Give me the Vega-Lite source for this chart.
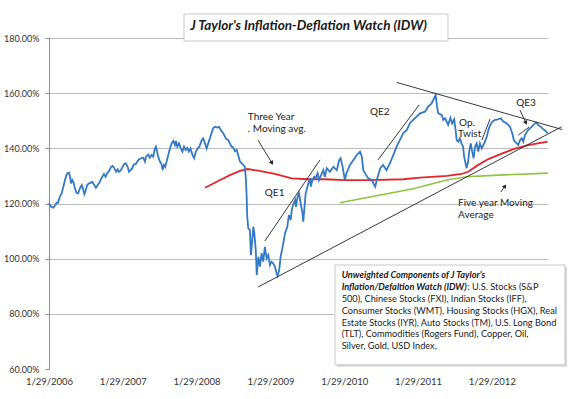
{
  "$schema": "https://vega.github.io/schema/vega-lite/v6.json",
  "width": 499,
  "height": 331,
  "autosize": {"type": "none"},
  "padding": {"left": 49, "top": 38, "right": 22, "bottom": 30},
  "background": "white",
  "config": {"view": {"stroke": null}, "font": "Lato"},
  "datasets": {
    "idw": [
      {"date": "2006-01-29", "v": 1.201}, {"date": "2006-02-08", "v": 1.188}, {"date": "2006-02-19", "v": 1.185}, {"date": "2006-02-27", "v": 1.192},
      {"date": "2006-03-08", "v": 1.203}, {"date": "2006-03-14", "v": 1.202}, {"date": "2006-03-24", "v": 1.225}, {"date": "2006-04-02", "v": 1.237},
      {"date": "2006-04-10", "v": 1.261}, {"date": "2006-04-18", "v": 1.285}, {"date": "2006-04-23", "v": 1.297}, {"date": "2006-04-30", "v": 1.31},
      {"date": "2006-05-08", "v": 1.312}, {"date": "2006-05-13", "v": 1.297}, {"date": "2006-05-18", "v": 1.273}, {"date": "2006-05-24", "v": 1.285},
      {"date": "2006-05-31", "v": 1.275}, {"date": "2006-06-06", "v": 1.255}, {"date": "2006-06-14", "v": 1.239}, {"date": "2006-06-22", "v": 1.237},
      {"date": "2006-07-01", "v": 1.255}, {"date": "2006-07-10", "v": 1.267}, {"date": "2006-07-18", "v": 1.249}, {"date": "2006-07-23", "v": 1.234},
      {"date": "2006-07-30", "v": 1.249}, {"date": "2006-08-06", "v": 1.267}, {"date": "2006-08-15", "v": 1.273}, {"date": "2006-08-23", "v": 1.275},
      {"date": "2006-08-31", "v": 1.279}, {"date": "2006-09-10", "v": 1.267}, {"date": "2006-09-18", "v": 1.257}, {"date": "2006-09-27", "v": 1.267},
      {"date": "2006-10-05", "v": 1.275}, {"date": "2006-10-13", "v": 1.288}, {"date": "2006-10-20", "v": 1.297}, {"date": "2006-10-28", "v": 1.307},
      {"date": "2006-11-05", "v": 1.297}, {"date": "2006-11-15", "v": 1.312}, {"date": "2006-11-23", "v": 1.319}, {"date": "2006-12-02", "v": 1.333},
      {"date": "2006-12-10", "v": 1.336}, {"date": "2006-12-18", "v": 1.328}, {"date": "2006-12-27", "v": 1.315}, {"date": "2007-01-04", "v": 1.324},
      {"date": "2007-01-10", "v": 1.315}, {"date": "2007-01-20", "v": 1.321}, {"date": "2007-01-28", "v": 1.333}, {"date": "2007-02-05", "v": 1.343},
      {"date": "2007-02-13", "v": 1.346}, {"date": "2007-02-22", "v": 1.333}, {"date": "2007-03-01", "v": 1.315}, {"date": "2007-03-09", "v": 1.321},
      {"date": "2007-03-17", "v": 1.328}, {"date": "2007-03-25", "v": 1.342}, {"date": "2007-04-03", "v": 1.343}, {"date": "2007-04-11", "v": 1.352},
      {"date": "2007-04-19", "v": 1.36}, {"date": "2007-04-29", "v": 1.364}, {"date": "2007-05-10", "v": 1.366}, {"date": "2007-05-19", "v": 1.352},
      {"date": "2007-05-24", "v": 1.37}, {"date": "2007-06-04", "v": 1.378}, {"date": "2007-06-12", "v": 1.366}, {"date": "2007-06-21", "v": 1.376},
      {"date": "2007-06-29", "v": 1.37}, {"date": "2007-07-07", "v": 1.4}, {"date": "2007-07-12", "v": 1.406}, {"date": "2007-07-18", "v": 1.388},
      {"date": "2007-07-23", "v": 1.37}, {"date": "2007-08-01", "v": 1.352}, {"date": "2007-08-09", "v": 1.342}, {"date": "2007-08-14", "v": 1.321},
      {"date": "2007-08-21", "v": 1.34}, {"date": "2007-08-27", "v": 1.333}, {"date": "2007-09-03", "v": 1.352}, {"date": "2007-09-11", "v": 1.376},
      {"date": "2007-09-20", "v": 1.4}, {"date": "2007-09-28", "v": 1.418}, {"date": "2007-10-06", "v": 1.427}, {"date": "2007-10-14", "v": 1.412},
      {"date": "2007-10-19", "v": 1.427}, {"date": "2007-10-26", "v": 1.406}, {"date": "2007-11-03", "v": 1.418}, {"date": "2007-11-12", "v": 1.4},
      {"date": "2007-11-20", "v": 1.388}, {"date": "2007-11-28", "v": 1.406}, {"date": "2007-12-06", "v": 1.394}, {"date": "2007-12-14", "v": 1.402},
      {"date": "2007-12-22", "v": 1.388}, {"date": "2007-12-30", "v": 1.4}, {"date": "2008-01-09", "v": 1.376}, {"date": "2008-01-17", "v": 1.364},
      {"date": "2008-01-25", "v": 1.386}, {"date": "2008-02-04", "v": 1.4}, {"date": "2008-02-12", "v": 1.406}, {"date": "2008-02-24", "v": 1.43},
      {"date": "2008-03-02", "v": 1.436}, {"date": "2008-03-11", "v": 1.418}, {"date": "2008-03-19", "v": 1.4}, {"date": "2008-03-27", "v": 1.418},
      {"date": "2008-04-04", "v": 1.436}, {"date": "2008-04-12", "v": 1.455}, {"date": "2008-04-20", "v": 1.473}, {"date": "2008-04-29", "v": 1.478},
      {"date": "2008-05-10", "v": 1.475}, {"date": "2008-05-20", "v": 1.478}, {"date": "2008-05-28", "v": 1.466}, {"date": "2008-06-09", "v": 1.455},
      {"date": "2008-06-22", "v": 1.436}, {"date": "2008-07-04", "v": 1.43}, {"date": "2008-07-12", "v": 1.418}, {"date": "2008-07-20", "v": 1.406},
      {"date": "2008-07-28", "v": 1.404}, {"date": "2008-08-06", "v": 1.39}, {"date": "2008-08-15", "v": 1.394}, {"date": "2008-08-22", "v": 1.376},
      {"date": "2008-08-31", "v": 1.352}, {"date": "2008-09-08", "v": 1.346}, {"date": "2008-09-16", "v": 1.34}, {"date": "2008-09-24", "v": 1.333},
      {"date": "2008-09-29", "v": 1.291}, {"date": "2008-10-03", "v": 1.225}, {"date": "2008-10-06", "v": 1.152}, {"date": "2008-10-11", "v": 1.11},
      {"date": "2008-10-19", "v": 1.104}, {"date": "2008-10-24", "v": 1.013}, {"date": "2008-10-31", "v": 1.068}, {"date": "2008-11-05", "v": 1.116},
      {"date": "2008-11-10", "v": 1.092}, {"date": "2008-11-17", "v": 1.031}, {"date": "2008-11-22", "v": 0.941}, {"date": "2008-11-30", "v": 1.007},
      {"date": "2008-12-08", "v": 0.971}, {"date": "2008-12-16", "v": 1.02}, {"date": "2008-12-24", "v": 0.989}, {"date": "2009-01-01", "v": 1.043},
      {"date": "2009-01-10", "v": 1.001}, {"date": "2009-01-18", "v": 1.013}, {"date": "2009-01-26", "v": 0.977}, {"date": "2009-02-03", "v": 0.989},
      {"date": "2009-02-11", "v": 0.983}, {"date": "2009-02-20", "v": 0.971}, {"date": "2009-02-28", "v": 0.947}, {"date": "2009-03-05", "v": 0.937},
      {"date": "2009-03-13", "v": 0.959}, {"date": "2009-03-20", "v": 1.007}, {"date": "2009-03-30", "v": 1.043}, {"date": "2009-04-11", "v": 1.092},
      {"date": "2009-04-22", "v": 1.116}, {"date": "2009-04-30", "v": 1.158}, {"date": "2009-05-09", "v": 1.14}, {"date": "2009-05-14", "v": 1.176},
      {"date": "2009-05-22", "v": 1.198}, {"date": "2009-05-31", "v": 1.213}, {"date": "2009-06-04", "v": 1.188}, {"date": "2009-06-12", "v": 1.225},
      {"date": "2009-06-19", "v": 1.237}, {"date": "2009-06-27", "v": 1.201}, {"date": "2009-07-05", "v": 1.17}, {"date": "2009-07-10", "v": 1.134},
      {"date": "2009-07-15", "v": 1.176}, {"date": "2009-07-22", "v": 1.237}, {"date": "2009-07-27", "v": 1.249}, {"date": "2009-08-04", "v": 1.273},
      {"date": "2009-08-12", "v": 1.291}, {"date": "2009-08-17", "v": 1.261}, {"date": "2009-08-24", "v": 1.285}, {"date": "2009-09-02", "v": 1.297},
      {"date": "2009-09-09", "v": 1.291}, {"date": "2009-09-19", "v": 1.31}, {"date": "2009-09-26", "v": 1.285}, {"date": "2009-10-06", "v": 1.303},
      {"date": "2009-10-17", "v": 1.321}, {"date": "2009-10-25", "v": 1.296}, {"date": "2009-11-03", "v": 1.328}, {"date": "2009-11-19", "v": 1.315},
      {"date": "2009-12-06", "v": 1.333}, {"date": "2009-12-23", "v": 1.321}, {"date": "2010-01-04", "v": 1.358}, {"date": "2010-01-11", "v": 1.364},
      {"date": "2010-01-21", "v": 1.333}, {"date": "2010-02-01", "v": 1.285}, {"date": "2010-02-09", "v": 1.31}, {"date": "2010-02-26", "v": 1.34},
      {"date": "2010-03-15", "v": 1.358}, {"date": "2010-04-01", "v": 1.376}, {"date": "2010-04-17", "v": 1.388}, {"date": "2010-04-26", "v": 1.37},
      {"date": "2010-05-03", "v": 1.321}, {"date": "2010-05-11", "v": 1.31}, {"date": "2010-05-28", "v": 1.291}, {"date": "2010-06-14", "v": 1.285},
      {"date": "2010-07-01", "v": 1.261}, {"date": "2010-07-09", "v": 1.285}, {"date": "2010-07-26", "v": 1.328}, {"date": "2010-08-09", "v": 1.34},
      {"date": "2010-08-26", "v": 1.321}, {"date": "2010-09-12", "v": 1.346}, {"date": "2010-09-29", "v": 1.376}, {"date": "2010-10-15", "v": 1.406},
      {"date": "2010-10-31", "v": 1.43}, {"date": "2010-11-17", "v": 1.455}, {"date": "2010-12-04", "v": 1.466}, {"date": "2010-12-20", "v": 1.491},
      {"date": "2011-01-05", "v": 1.503}, {"date": "2011-01-22", "v": 1.515}, {"date": "2011-02-08", "v": 1.527}, {"date": "2011-03-04", "v": 1.533},
      {"date": "2011-03-20", "v": 1.551}, {"date": "2011-04-06", "v": 1.563}, {"date": "2011-04-14", "v": 1.575}, {"date": "2011-04-26", "v": 1.593},
      {"date": "2011-05-03", "v": 1.551}, {"date": "2011-05-09", "v": 1.527}, {"date": "2011-05-26", "v": 1.521}, {"date": "2011-06-03", "v": 1.503},
      {"date": "2011-06-11", "v": 1.509}, {"date": "2011-06-20", "v": 1.497}, {"date": "2011-06-27", "v": 1.485}, {"date": "2011-07-08", "v": 1.51},
      {"date": "2011-07-17", "v": 1.49}, {"date": "2011-07-27", "v": 1.505}, {"date": "2011-08-03", "v": 1.466}, {"date": "2011-08-08", "v": 1.43},
      {"date": "2011-08-16", "v": 1.424}, {"date": "2011-08-24", "v": 1.436}, {"date": "2011-09-01", "v": 1.418}, {"date": "2011-09-09", "v": 1.406},
      {"date": "2011-09-14", "v": 1.37}, {"date": "2011-09-21", "v": 1.346}, {"date": "2011-09-26", "v": 1.328}, {"date": "2011-10-04", "v": 1.352},
      {"date": "2011-10-09", "v": 1.388}, {"date": "2011-10-17", "v": 1.418}, {"date": "2011-10-24", "v": 1.388}, {"date": "2011-10-31", "v": 1.364},
      {"date": "2011-11-07", "v": 1.406}, {"date": "2011-11-15", "v": 1.418}, {"date": "2011-11-23", "v": 1.388}, {"date": "2011-12-01", "v": 1.418},
      {"date": "2011-12-10", "v": 1.4}, {"date": "2011-12-18", "v": 1.412}, {"date": "2011-12-26", "v": 1.424}, {"date": "2012-01-04", "v": 1.442},
      {"date": "2012-01-12", "v": 1.466}, {"date": "2012-01-21", "v": 1.485}, {"date": "2012-02-01", "v": 1.497}, {"date": "2012-02-14", "v": 1.503},
      {"date": "2012-03-01", "v": 1.505}, {"date": "2012-03-14", "v": 1.509}, {"date": "2012-03-26", "v": 1.497}, {"date": "2012-04-11", "v": 1.491},
      {"date": "2012-04-28", "v": 1.478}, {"date": "2012-05-09", "v": 1.455}, {"date": "2012-05-17", "v": 1.43}, {"date": "2012-05-22", "v": 1.424},
      {"date": "2012-06-01", "v": 1.418}, {"date": "2012-06-08", "v": 1.412}, {"date": "2012-06-17", "v": 1.43}, {"date": "2012-06-25", "v": 1.436},
      {"date": "2012-07-03", "v": 1.424}, {"date": "2012-07-11", "v": 1.448}, {"date": "2012-07-27", "v": 1.466}, {"date": "2012-08-13", "v": 1.478},
      {"date": "2012-08-30", "v": 1.491}, {"date": "2012-09-06", "v": 1.493}, {"date": "2012-09-14", "v": 1.485}, {"date": "2012-10-01", "v": 1.476},
      {"date": "2012-10-09", "v": 1.469}, {"date": "2012-10-17", "v": 1.466}, {"date": "2012-10-26", "v": 1.46}, {"date": "2012-10-31", "v": 1.455}
    ],
    "ma3": [
      {"date": "2008-03-11", "v": 1.257}, {"date": "2008-05-25", "v": 1.285}, {"date": "2008-07-12", "v": 1.303}, {"date": "2008-08-31", "v": 1.318},
      {"date": "2008-10-08", "v": 1.325}, {"date": "2008-11-28", "v": 1.319}, {"date": "2009-02-20", "v": 1.307}, {"date": "2009-05-14", "v": 1.291},
      {"date": "2009-08-04", "v": 1.288}, {"date": "2009-10-25", "v": 1.288}, {"date": "2010-02-01", "v": 1.285}, {"date": "2010-06-05", "v": 1.285},
      {"date": "2010-11-17", "v": 1.288}, {"date": "2011-02-08", "v": 1.294}, {"date": "2011-06-21", "v": 1.3}, {"date": "2011-09-01", "v": 1.307},
      {"date": "2011-10-04", "v": 1.315}, {"date": "2011-11-23", "v": 1.34}, {"date": "2012-01-12", "v": 1.361}, {"date": "2012-03-18", "v": 1.381},
      {"date": "2012-05-22", "v": 1.399}, {"date": "2012-07-27", "v": 1.412}, {"date": "2012-10-31", "v": 1.424}
    ],
    "ma5": [
      {"date": "2010-01-07", "v": 1.203}, {"date": "2010-07-26", "v": 1.231}, {"date": "2010-12-04", "v": 1.249}, {"date": "2011-01-14", "v": 1.255},
      {"date": "2011-06-20", "v": 1.285}, {"date": "2011-09-26", "v": 1.297}, {"date": "2012-03-01", "v": 1.303}, {"date": "2012-11-01", "v": 1.31}
    ],
    "trends": [
      {"line": "upper", "date": "2010-10-15", "v": 1.639}, {"line": "upper", "date": "2013-01-12", "v": 1.468},
      {"line": "lower", "date": "2008-11-28", "v": 0.897}, {"line": "lower", "date": "2013-01-08", "v": 1.478},
      {"line": "qe1", "date": "2009-01-01", "v": 1.064}, {"line": "qe1", "date": "2009-10-01", "v": 1.358},
      {"line": "qe2", "date": "2010-07-15", "v": 1.358}, {"line": "qe2", "date": "2011-02-03", "v": 1.557},
      {"line": "twist", "date": "2011-12-11", "v": 1.43}, {"line": "twist", "date": "2012-01-20", "v": 1.506},
      {"line": "qe3", "date": "2012-06-08", "v": 1.448}, {"line": "qe3", "date": "2012-08-01", "v": 1.477},
      {"line": "arrow3", "date": "2008-11-28", "v": 1.43}, {"line": "arrow3", "date": "2009-02-05", "v": 1.347},
      {"line": "arrowqe3", "date": "2012-06-16", "v": 1.539}, {"line": "arrowqe3", "date": "2012-07-16", "v": 1.492},
      {"line": "arrow5", "date": "2012-03-14", "v": 1.242}, {"line": "arrow5", "date": "2012-04-03", "v": 1.263}
    ],
    "heads": [
      {"arrow": "three", "date": "2009-02-05", "v": 1.347},
      {"arrow": "qe3", "date": "2012-07-16", "v": 1.492},
      {"arrow": "five", "date": "2012-04-03", "v": 1.263}
    ],
    "notes": [
      {"label": "Three Year", "date": "2008-10-09", "v": 1.514},
      {"label": ". Moving avg.", "date": "2008-10-09", "v": 1.47},
      {"label": "QE1", "date": "2009-01-01", "v": 1.238},
      {"label": "QE2", "date": "2010-06-05", "v": 1.532},
      {"label": "Op.", "date": "2011-08-20", "v": 1.491},
      {"label": "Twist", "date": "2011-08-15", "v": 1.451},
      {"label": "QE3", "date": "2012-05-29", "v": 1.566},
      {"label": "Five year Moving", "date": "2011-08-15", "v": 1.201},
      {"label": "Average", "date": "2011-08-15", "v": 1.158}
    ],
    "titlebox": [{"date": "2007-11-28", "date2": "2011-06-26", "v": 1.887, "v2": 1.789}],
    "titletext": [{"label": "J Taylor's Inflation-Deflation Watch (IDW)", "date": "2009-08-05", "v": 1.842}],
    "shadow": [{"date": "2009-12-24", "date2": "2013-02-04", "v": 0.97, "v2": 0.608}],
    "panel": [{"date": "2009-12-14", "date2": "2013-01-25", "v": 0.977, "v2": 0.615}],
    "boxbold": [
      {"label": "Unweighted Components  of J Taylor's", "date": "2010-01-16", "v": 0.941},
      {"label": "Inflation/Defaltion Watch (IDW)", "date": "2010-01-16", "v": 0.896}
    ],
    "boxplain": [
      {"label": ": U.S. Stocks (S&P", "date": "2011-09-30", "v": 0.896},
      {"label": "500), Chinese Stocks (FXI), Indian Stocks (IFF),", "date": "2010-01-16", "v": 0.854},
      {"label": "Consumer Stocks (WMT), Housing Stocks (HGX), Real", "date": "2010-01-16", "v": 0.81},
      {"label": "Estate Stocks (IYR), Auto Stocks (TM), U.S. Long Bond", "date": "2010-01-16", "v": 0.768},
      {"label": "(TLT), Commodities (Rogers Fund), Copper, Oil,", "date": "2010-01-16", "v": 0.727},
      {"label": "Silver, Gold, USD Index,", "date": "2010-01-16", "v": 0.685}
    ]
  },
  "encoding": {
    "x": {
      "field": "date", "type": "temporal",
      "scale": {"type": "utc", "nice": false, "domain": [{"year": 2006, "month": 1, "date": 29, "utc": true}, {"year": 2012, "month": 11, "date": 2, "utc": true}]},
      "axis": {
        "title": null, "grid": false, "domain": false, "ticks": false,
        "values": [
          {"year": 2006, "month": 1, "date": 29, "utc": true}, {"year": 2007, "month": 1, "date": 29, "utc": true},
          {"year": 2008, "month": 1, "date": 29, "utc": true}, {"year": 2009, "month": 1, "date": 29, "utc": true},
          {"year": 2010, "month": 1, "date": 29, "utc": true}, {"year": 2011, "month": 1, "date": 29, "utc": true},
          {"year": 2012, "month": 1, "date": 29, "utc": true}
        ],
        "labelExpr": "utcFormat(datum.value, '%-m/%-d/%Y')",
        "labelFont": "Lato", "labelFontSize": 9.5, "labelColor": "#333333", "labelPadding": 7,
        "labelFlush": false, "labelOverlap": false
      }
    },
    "y": {
      "field": "v", "type": "quantitative",
      "scale": {"domain": [0.6, 1.8], "nice": false, "zero": false},
      "axis": {
        "title": null, "values": [0.6, 0.8, 1.0, 1.2, 1.4, 1.6, 1.8], "format": ".2%",
        "grid": true, "gridColor": "#bdbdbd",
        "gridOpacity": {"condition": {"test": "datum.value < 0.7", "value": 0}, "value": 1},
        "domainColor": "#8c8c8c", "tickColor": "#8c8c8c", "tickSize": 4,
        "labelFont": "Lato", "labelFontSize": 9, "labelColor": "#333333", "labelPadding": 6
      }
    }
  },
  "layer": [
    {"data": {"name": "titlebox"}, "mark": {"type": "rect", "fill": "white", "stroke": "#c8c8c8", "strokeWidth": 1}, "encoding": {"x2": {"field": "date2"}, "y2": {"field": "v2"}}},
    {"data": {"name": "titletext"}, "mark": {"type": "text", "font": "Lato", "fontSize": 13.5, "fontWeight": "bold", "fontStyle": "italic", "align": "center", "baseline": "middle", "color": "#1a1a1a"}, "encoding": {"text": {"field": "label"}}},
    {"data": {"name": "shadow"}, "mark": {"type": "rect", "fill": "#d9d9d9", "stroke": null}, "encoding": {"x2": {"field": "date2"}, "y2": {"field": "v2"}}},
    {"data": {"name": "panel"}, "mark": {"type": "rect", "fill": "white", "stroke": "#c8c8c8", "strokeWidth": 1}, "encoding": {"x2": {"field": "date2"}, "y2": {"field": "v2"}}},
    {"data": {"name": "ma5"}, "mark": {"type": "line", "color": "#8dc63f", "strokeWidth": 1.6}, "encoding": {}},
    {"data": {"name": "ma3"}, "mark": {"type": "line", "color": "#e3262a", "strokeWidth": 1.8}, "encoding": {}},
    {"data": {"name": "idw"}, "mark": {"type": "line", "color": "#3479c6", "strokeWidth": 1.8}, "encoding": {}},
    {"data": {"name": "trends"}, "mark": {"type": "line", "color": "#222222", "strokeWidth": 0.9}, "encoding": {"detail": {"field": "line"}}},
    {"data": {"name": "heads"}, "transform": [{"filter": "datum.arrow == 'three'"}], "mark": {"type": "point", "shape": "triangle-up", "filled": true, "color": "#222222", "size": 22, "angle": 149, "opacity": 1}, "encoding": {}},
    {"data": {"name": "heads"}, "transform": [{"filter": "datum.arrow == 'qe3'"}], "mark": {"type": "point", "shape": "triangle-up", "filled": true, "color": "#222222", "size": 22, "angle": 155, "opacity": 1}, "encoding": {}},
    {"data": {"name": "heads"}, "transform": [{"filter": "datum.arrow == 'five'"}], "mark": {"type": "point", "shape": "triangle-up", "filled": true, "color": "#222222", "size": 22, "angle": 34, "opacity": 1}, "encoding": {}},
    {"data": {"name": "notes"}, "mark": {"type": "text", "font": "Lato", "fontSize": 10, "align": "left", "baseline": "middle", "color": "#222222"}, "encoding": {"text": {"field": "label"}}},
    {"data": {"name": "boxbold"}, "mark": {"type": "text", "font": "Lato", "fontSize": 9.2, "fontWeight": "bold", "fontStyle": "italic", "align": "left", "baseline": "middle", "color": "#1a1a1a"}, "encoding": {"text": {"field": "label"}}},
    {"data": {"name": "boxplain"}, "mark": {"type": "text", "font": "Lato", "fontSize": 9.2, "align": "left", "baseline": "middle", "color": "#1a1a1a"}, "encoding": {"text": {"field": "label"}}}
  ]
}
